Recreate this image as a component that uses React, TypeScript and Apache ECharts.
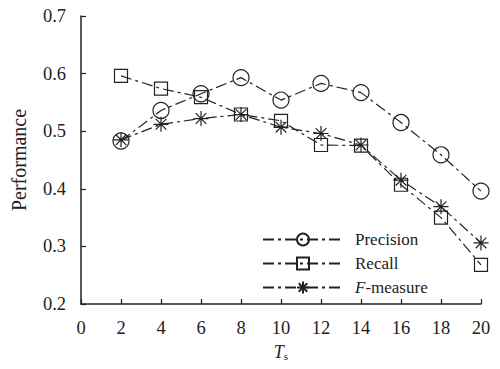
import React, { useEffect, useRef } from "react";
import * as echarts from "echarts";

const xValues = [2, 4, 6, 8, 10, 12, 14, 16, 18, 20];
const precision = [0.483, 0.536, 0.565, 0.593, 0.554, 0.583, 0.567, 0.515, 0.459, 0.396];
const recall = [0.596, 0.574, 0.559, 0.529, 0.518, 0.476, 0.475, 0.407, 0.35, 0.268];
const fMeasure = [0.485, 0.512, 0.522, 0.529, 0.507, 0.496, 0.476, 0.415, 0.369, 0.306];
const seriesNames = ["Precision", "Recall", "F-measure"];

const FONT = "'Liberation Serif', 'Times New Roman', Times, serif";
const INK = "#222";
const DASH = [11, 4, 3, 4];
const ASTERISK = "path://M0,8L16,8M8,0L8,16M2.3,2.3L13.7,13.7M13.7,2.3L2.3,13.7";

export default function App() {
  const ref = useRef<HTMLDivElement>(null);
  useEffect(() => {
    if (!ref.current) return;
    const chart = echarts.init(ref.current, null, { renderer: "svg" });
    const mk = (name: string, vals: number[], symbol: string, size: number) => ({
      name,
      type: "line",
      data: xValues.map((x, i) => [x, vals[i]]),
      symbol,
      symbolSize: size,
      showSymbol: true,
      lineStyle: { color: INK, width: 1.2, type: DASH },
      itemStyle: { color: "transparent", borderColor: INK, borderWidth: 1.2 },
      emphasis: { disabled: true },
    });
    chart.setOption({
      animation: false,
      backgroundColor: "#fff",
      textStyle: { fontFamily: FONT, color: INK },
      grid: { left: 81, right: 19, top: 16, bottom: 65 },
      legend: {
        orient: "vertical",
        left: 257,
        top: 226,
        itemWidth: 80,
        itemHeight: 15,
        itemGap: 7,
        data: seriesNames,
        formatter: (n: string) => (n === "F-measure" ? "{i|F}{r|-measure}" : "{r|" + n + "}"),
        textStyle: {
          fontFamily: FONT,
          fontSize: 17,
          color: INK,
          padding: [0, 0, 0, 7],
          rich: {
            i: { fontFamily: FONT, fontSize: 17, fontStyle: "italic", color: INK },
            r: { fontFamily: FONT, fontSize: 17, color: INK },
          },
        },
      },
      xAxis: {
        type: "value",
        min: 0,
        max: 20,
        interval: 2,
        name: "{t|T}{s|s}",
        nameLocation: "middle",
        nameGap: 38,
        nameTextStyle: {
          rich: {
            t: { fontFamily: FONT, fontSize: 18, fontStyle: "italic", color: INK },
            s: { fontFamily: FONT, fontSize: 11, color: INK, padding: [8, 0, 0, 0] },
          },
        },
        axisLine: { lineStyle: { color: INK, width: 1.5 } },
        axisTick: { inside: true, length: 5, lineStyle: { color: INK, width: 1.2 } },
        axisLabel: { fontFamily: FONT, fontSize: 18.5, color: INK, margin: 14 },
        splitLine: { show: false },
      },
      yAxis: {
        type: "value",
        min: 0.2,
        max: 0.7,
        interval: 0.1,
        name: "Performance",
        nameLocation: "middle",
        nameGap: 52,
        nameTextStyle: { fontFamily: FONT, fontSize: 20, color: INK },
        axisLine: { show: true, lineStyle: { color: INK, width: 1.5 } },
        axisTick: { show: true, inside: true, length: 5, lineStyle: { color: INK, width: 1.2 } },
        axisLabel: {
          fontFamily: FONT,
          fontSize: 18.5,
          color: INK,
          margin: 15,
          formatter: (v: number) => v.toFixed(1),
        },
        splitLine: { show: false },
      },
      series: [
        mk("Precision", precision, "circle", 16),
        mk("Recall", recall, "rect", 13),
        mk("F-measure", fMeasure, ASTERISK, 15),
      ],
    });
    return () => chart.dispose();
  }, []);
  return <div ref={ref} style={{ width: 500, height: 369, position: "absolute", left: 0, top: 0 }} />;
}
